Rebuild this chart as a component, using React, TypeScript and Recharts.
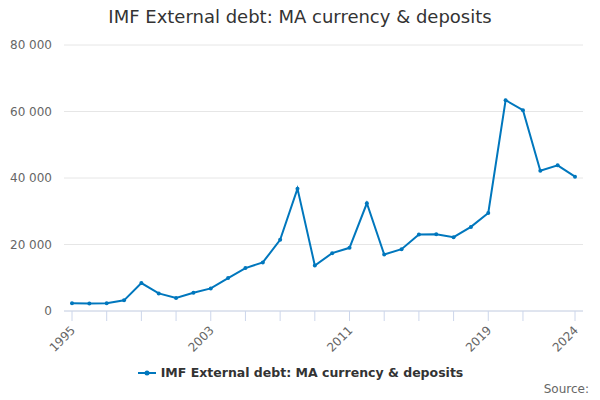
import { LineChart, Line, XAxis, YAxis, CartesianGrid, Legend } from "recharts";

const years = [
  "1995", "1996", "1997", "1998", "1999", "2000", "2001", "2002", "2003", "2004",
  "2005", "2006", "2007", "2008", "2009", "2010", "2011", "2012", "2013", "2014",
  "2015", "2016", "2017", "2018", "2019", "2020", "2021", "2022", "2023", "2024",
];
const values = [
  2300, 2250, 2300, 3200, 8400, 5300, 3900, 5500, 6800, 9900,
  12900, 14600, 21400, 36800, 13700, 17400, 19000, 32400, 17000, 18600,
  23000, 23100, 22200, 25300, 29500, 63400, 60400, 42200, 43800, 40400,
];
const tickYears = [
  "1995", "1997", "1999", "2001", "2003", "2005", "2007", "2009", "2011",
  "2013", "2015", "2017", "2019", "2021", "2024",
];
const labelYears = ["1995", "2003", "2011", "2019", "2024"];
const yTicks = [0, 20000, 40000, 60000, 80000];

const seriesName = "IMF External debt: MA currency & deposits";
const title = "IMF External debt: MA currency & deposits";

const data = years.map((year, i) => ({ year, value: values[i] }));

const FONT = '"DejaVu Sans", Verdana, sans-serif';
const LINE_COLOR = "#0077bd";

const fmt = (v: number) => String(v).replace(/\B(?=(\d{3})+(?!\d))/g, " ");

const XTick = (props: any) => {
  const { x, y, payload } = props;
  if (!labelYears.includes(payload.value)) return null;
  const tx = x + 4;
  const ty = y + 8;
  return (
    <text
      x={tx}
      y={ty}
      transform={`rotate(-45, ${tx}, ${ty})`}
      textAnchor="end"
      fontSize={12}
      fill="#666666"
      fontFamily={FONT}
    >
      {payload.value}
    </text>
  );
};

const LegendContent = () => (
  <div style={{ height: 40, position: "relative", fontFamily: FONT }}>
    <div
      style={{
        position: "absolute",
        top: 5,
        left: 0,
        width: 600,
        display: "flex",
        justifyContent: "center",
        alignItems: "center",
      }}
    >
      <svg width={22} height={10} style={{ marginRight: 2 }}>
        <line x1={1} y1={5} x2={19} y2={5} stroke={LINE_COLOR} strokeWidth={2} />
        <circle cx={10} cy={5} r={2.5} fill={LINE_COLOR} />
      </svg>
      <span style={{ fontSize: 12.5, fontWeight: "bold", color: "#333333" }}>{seriesName}</span>
    </div>
  </div>
);

const App = () => {
  return (
    <div
      style={{
        position: "absolute",
        left: 0,
        top: 0,
        width: 600,
        height: 400,
        background: "#ffffff",
        fontFamily: FONT,
      }}
    >
      <div
        style={{
          position: "absolute",
          top: 6,
          left: 0,
          width: 600,
          textAlign: "center",
          fontSize: 18,
          color: "#333333",
          zIndex: 1,
        }}
      >
        {title}
      </div>
      <div
        style={{
          position: "absolute",
          top: 382,
          right: 11,
          fontSize: 12,
          color: "#666666",
          zIndex: 1,
        }}
      >
        Source:
      </div>
      <LineChart
        width={600}
        height={400}
        data={data}
        margin={{ top: 45, right: 17, bottom: 0, left: 0 }}
      >
        <CartesianGrid vertical={false} stroke="#e6e6e6" />
        <XAxis
          dataKey="year"
          ticks={tickYears}
          interval={0}
          height={49}
          padding={{ left: 8, right: 8 }}
          stroke="#ccd6eb"
          tickSize={10}
          tick={<XTick />}
        />
        <YAxis
          width={64}
          domain={[0, 80000]}
          ticks={yTicks}
          axisLine={false}
          tickLine={false}
          tickSize={0}
          tickMargin={12}
          tickFormatter={fmt}
          tick={{ fontSize: 12, fill: "#666666", fontFamily: FONT }}
        />
        <Legend verticalAlign="bottom" content={<LegendContent />} />
        <Line
          type="linear"
          dataKey="value"
          name={seriesName}
          stroke={LINE_COLOR}
          strokeWidth={2}
          dot={{ r: 2, fill: LINE_COLOR, stroke: LINE_COLOR, strokeWidth: 0 }}
          activeDot={false}
          isAnimationActive={false}
        />
      </LineChart>
    </div>
  );
};

export default App;
